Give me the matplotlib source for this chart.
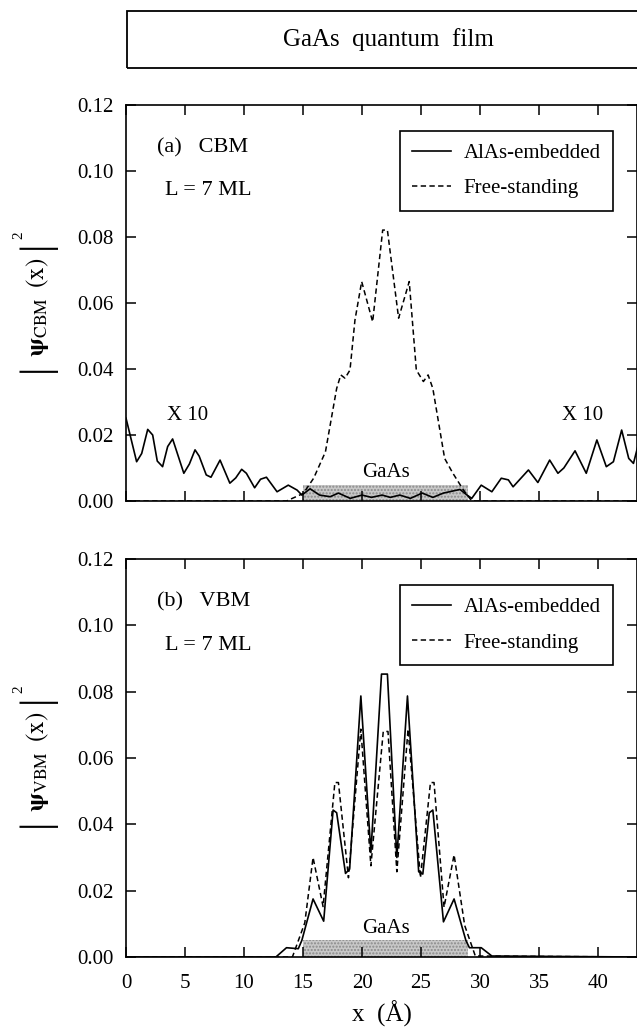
import matplotlib
matplotlib.use("Agg")
from matplotlib import pyplot as plt
from matplotlib.patches import Rectangle

plt.rcParams['font.family'] = ['Liberation Serif', 'DejaVu Serif']
plt.rcParams['mathtext.fontset'] = 'stix'

# (a) CBM, AlAs-embedded (outside the film scaled x10)
cbm_emb_x = [0.0, 0.9, 1.33, 1.84, 2.26, 2.65, 3.1, 3.53, 3.95, 4.9, 5.37, 5.85, 6.2,
             6.8, 7.2, 7.97, 8.8, 9.3, 9.8, 10.2, 10.9, 11.4, 11.9, 12.8, 13.75, 14.5,
             14.9, 15.6, 16.4, 17.3, 18.0, 19.0, 20.0, 20.8, 21.7, 22.4, 23.2, 24.1,
             25.1, 26.0, 26.9, 28.3, 28.9, 29.3, 30.1, 31.0, 31.8, 32.4, 32.8, 34.1,
             34.9, 35.9, 36.6, 37.1, 38.05, 39.0, 39.9, 40.7, 41.3, 42.0, 42.6, 43.0, 43.4]
cbm_emb_y = [0.0251, 0.0119, 0.0144, 0.0217, 0.0200, 0.0121, 0.0104, 0.0165, 0.0188,
             0.0084, 0.0112, 0.0155, 0.0136, 0.0079, 0.0072, 0.0124, 0.0054, 0.0070,
             0.0096, 0.0084, 0.0040, 0.0066, 0.0072, 0.0028, 0.0048, 0.0033, 0.0018,
             0.0037, 0.0018, 0.0013, 0.0024, 0.0008, 0.0018, 0.0011, 0.0018, 0.0011,
             0.0018, 0.0008, 0.0024, 0.0011, 0.0024, 0.0035, 0.0018, 0.0008, 0.0048,
             0.0028, 0.0069, 0.0064, 0.0043, 0.0094, 0.0056, 0.0124, 0.0084, 0.0100,
             0.0152, 0.0084, 0.0185, 0.0104, 0.0119, 0.0215, 0.0129, 0.0114, 0.0170]

# (a) CBM, free-standing
cbm_free_x = [0.0, 13.6, 15.03, 15.9, 16.9, 17.85, 18.2, 18.56, 18.98, 19.4, 19.97, 20.9,
              21.75, 22.15, 23.1, 24.0, 24.6, 25.2, 25.6, 26.0, 27.0, 27.7, 28.6, 29.3, 43.4]
cbm_free_y = [0.0, 0.0, 0.0023, 0.0069, 0.0149, 0.0341, 0.0382, 0.0372, 0.0397, 0.0548,
              0.0665, 0.0543, 0.0821, 0.0821, 0.0554, 0.0665, 0.0397, 0.0362, 0.0382,
              0.0341, 0.0129, 0.0084, 0.0033, 0.0, 0.0]

# (b) VBM, AlAs-embedded
vbm_emb_x = [0.0, 12.7, 13.6, 14.6, 14.9, 15.85, 16.75, 17.55, 17.85, 18.6, 18.95, 19.9,
             20.75, 21.65, 22.15, 22.95, 23.85, 24.8, 25.15, 25.7, 26.0, 26.9, 27.8,
             28.8, 29.1, 30.1, 31.0, 43.4]
vbm_emb_y = [0.0, 0.0, 0.0028, 0.0025, 0.0050, 0.0175, 0.0108, 0.0443, 0.0435, 0.0252,
             0.0265, 0.0787, 0.0315, 0.0853, 0.0853, 0.0300, 0.0787, 0.0257, 0.0250,
             0.0435, 0.0443, 0.0106, 0.0175, 0.0050, 0.0028, 0.0028, 0.0003, 0.0]

# (b) VBM, free-standing
vbm_free_x = [0.0, 14.1, 15.15, 15.85, 16.7, 17.7, 18.0, 18.85, 19.9, 20.75, 21.8, 22.2,
              22.95, 23.9, 24.95, 25.8, 26.1, 26.95, 27.8, 28.7, 29.6, 43.4]
vbm_free_y = [0.0, 0.0, 0.0103, 0.0300, 0.0152, 0.0526, 0.0526, 0.0239, 0.0687, 0.0275,
              0.0680, 0.0680, 0.0257, 0.0687, 0.0239, 0.0526, 0.0526, 0.0150, 0.0308,
              0.0095, 0.0003, 0.0]

gaas_region = [15.0, 29.0]
gaas_height = 0.005
xticks = [0, 5, 10, 15, 20, 25, 30, 35, 40]
yticks = [0.00, 0.02, 0.04, 0.06, 0.08, 0.10, 0.12]

W, H = 637, 1032
fig = plt.figure(figsize=(W / 100, H / 100), dpi=100)

# title box
fig.patches.append(Rectangle((127 / W, 1 - 68 / H), 0.9, 57 / H, transform=fig.transFigure,
                             fill=False, lw=1.3, ec='black'))
fig.text(388 / W, 1 - 40 / H, 'GaAs  quantum  film', ha='center', va='center', fontsize=18)

ax1 = fig.add_axes([126 / W, 1 - 501 / H, 511 / W, 396 / H])
ax2 = fig.add_axes([126 / W, 1 - 957 / H, 511 / W, 398 / H])

panels = [
    (ax1, cbm_emb_x, cbm_emb_y, cbm_free_x, cbm_free_y, '(a)   CBM', 'CBM'),
    (ax2, vbm_emb_x, vbm_emb_y, vbm_free_x, vbm_free_y, '(b)   VBM', 'VBM'),
]

for ax, ex, ey, fx, fy, tag, band in panels:
    ax.fill_between(gaas_region, 0, gaas_height, facecolor='#c8c8c8', edgecolor='#8a8a8a',
                    hatch='.....', lw=0, zorder=1)
    ax.text(sum(gaas_region) / 2, 0.0085, 'GaAs', ha='center', va='center', fontsize=15)
    ax.plot(ex, ey, color='black', lw=1.2, label='AlAs-embedded', zorder=3)
    ax.plot(fx, fy, color='black', lw=1.1, ls=(0, (3.5, 2.2)), label='Free-standing', zorder=3)
    ax.set_xlim(0, 43.3)
    ax.set_ylim(0, 0.12)
    ax.set_xticks(xticks)
    ax.set_yticks(yticks)
    ax.yaxis.set_major_formatter(matplotlib.ticker.FormatStrFormatter('%.2f'))
    ax.tick_params(direction='in', length=7, width=1.1, top=True, right=True,
                   labelsize=15, pad=9)
    ax.tick_params(axis='x', pad=12)
    for s in ax.spines.values():
        s.set_linewidth(1.2)
    ax.text(2.6, 0.107, tag, ha='left', va='center', fontsize=16)
    ax.text(3.3, 0.094, 'L = 7 ML', ha='left', va='center', fontsize=16)
    leg = ax.legend(loc='upper right', bbox_to_anchor=(0.953, 0.934), borderaxespad=0,
                    fontsize=15, handlelength=1.85, labelspacing=0.75, borderpad=0.6,
                    handletextpad=0.6, fancybox=False, framealpha=1, edgecolor='black')
    leg.get_frame().set_linewidth(1.2)
    # y label: |psi(x)|^2 with tall bars
    lx = -0.174
    ax.text(lx, 0.49, r'$\mathbf{\psi}_{\mathrm{%s}}\;\;(\mathrm{x})$' % band, rotation=90,
            transform=ax.transAxes, ha='center', va='center', fontsize=18)
    ax.text(lx, 0.336, '|', rotation=90, transform=ax.transAxes, ha='center', va='center',
            fontsize=30)
    ax.text(lx, 0.648, '|', rotation=90, transform=ax.transAxes, ha='center', va='center',
            fontsize=30)
    ax.text(-0.21, 0.672, '2', rotation=90, transform=ax.transAxes, ha='center', va='center',
            fontsize=11)

ax1.text(5.2, 0.026, 'X 10', ha='center', va='center', fontsize=15)
ax1.text(38.7, 0.026, 'X 10', ha='center', va='center', fontsize=15)
ax1.tick_params(labelbottom=False)
ax2.set_xlabel('x  (Å)', fontsize=18, labelpad=6)

fig.savefig('out.png', dpi=100)
